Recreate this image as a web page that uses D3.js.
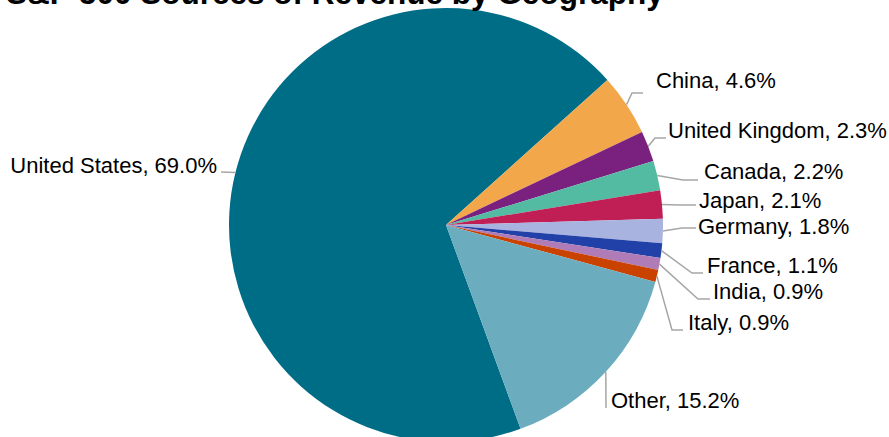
<!DOCTYPE html>
<html>
<head>
<meta charset="utf-8">
<script src="https://cdn.jsdelivr.net/npm/d3@7"></script>
<style>
  html, body { margin: 0; padding: 0; background: #fff; }
  svg { display: block; }
</style>
</head>
<body>
<svg id="pieSvg" width="889" height="437"></svg>
<script>
const titleText = "S&P 500 Sources of Revenue by Geography";
const regions = ["United States", "China", "United Kingdom", "Canada", "Japan",
    "Germany", "France", "India", "Italy", "Other"];
const shares = [69.0, 4.6, 2.3, 2.2, 2.1, 1.8, 1.1, 0.9, 0.9, 15.2];
const sliceColors = ["#006d87", "#f2a74b", "#7a2180", "#52bba2", "#c01f55",
    "#a9b3df", "#2241a8", "#b07cb8", "#c94200", "#6badbe"];

// where each data label sits: text x, baseline y, leader elbow, leader end x
const labelLayout = [
    { tx: 217, ty: 173, anchor: "end", ex: 221, ey: 172, endX: 221 },
    { tx: 656, ty: 88, ex: 632, ey: 93, endX: 643 },
    { tx: 668, ty: 138, ex: 655, ey: 138, endX: 666 },
    { tx: 704, ty: 179, ex: 683, ey: 180, endX: 698 },
    { tx: 699, ty: 208, ex: 680, ey: 205, endX: 696 },
    { tx: 698, ty: 234, ex: 682, ey: 228, endX: 696 },
    { tx: 707, ty: 273, ex: 692, ey: 273, endX: 703 },
    { tx: 713, ty: 299, ex: 698, ey: 299, endX: 710 },
    { tx: 688, ty: 330, ex: 672, ey: 330, endX: 683 },
    { tx: 611, ty: 408, ex: 606, ey: 408, endX: 606 }
];

function createPie() {
    const svg = d3.select("#pieSvg");
    const cx = 446, cy = 225, radius = 217;
    const firstAngle = 159.9 * Math.PI / 180;

    const pie = d3.pie()
        .sort(null)
        .value(d => d)
        .startAngle(firstAngle)
        .endAngle(firstAngle + 2 * Math.PI);

    const arcs = pie(shares);
    const arc = d3.arc().innerRadius(0).outerRadius(radius);

    const g = svg.append("g").attr("transform", `translate(${cx},${cy})`);

    g.selectAll(".slice")
        .data(arcs)
        .enter()
        .append("path")
        .attr("class", "slice")
        .attr("d", arc)
        .attr("fill", (d, i) => sliceColors[i]);

    // leader lines from slice edge to label
    const edge = d => {
        const a = (d.startAngle + d.endAngle) / 2;
        return [cx + radius * Math.sin(a), cy - radius * Math.cos(a)];
    };

    svg.selectAll(".leader")
        .data(arcs)
        .enter()
        .append("polyline")
        .attr("class", "leader")
        .attr("points", (d, i) => {
            const p = edge(d), l = labelLayout[i];
            return [p, [l.ex, l.ey], [l.endX, l.ey]].map(q => q.join(",")).join(" ");
        })
        .attr("fill", "none")
        .attr("stroke", "#a6a6a6")
        .attr("stroke-width", 1.5);

    svg.selectAll(".label")
        .data(arcs)
        .enter()
        .append("text")
        .attr("class", "label")
        .attr("x", (d, i) => labelLayout[i].tx)
        .attr("y", (d, i) => labelLayout[i].ty)
        .attr("text-anchor", (d, i) => labelLayout[i].anchor || "start")
        .attr("font-family", "'Liberation Sans', Arial, sans-serif")
        .attr("font-size", 22)
        .attr("fill", "#000")
        .text((d, i) => `${regions[i]}, ${shares[i].toFixed(1)}%`);

    svg.append("text")
        .attr("x", 6)
        .attr("y", 4)
        .attr("font-family", "'Liberation Sans', Arial, sans-serif")
        .attr("font-weight", "bold")
        .attr("font-size", 31.5)
        .attr("fill", "#000")
        .text(titleText);
}

createPie();
</script>
</body>
</html>
